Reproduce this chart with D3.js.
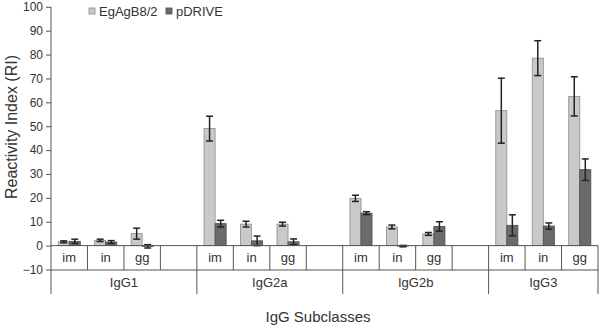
<!DOCTYPE html>
<html><head><meta charset="utf-8">
<script src="https://cdn.jsdelivr.net/npm/d3@7"></script>
<style>body{margin:0;background:#fff}svg{display:block;font-family:Arial,"Liberation Sans",sans-serif}</style>
</head><body><svg id="c" width="600" height="330"></svg>
<script>
const groups = ["IgG1","IgG2a","IgG2b","IgG3"];
const subs = ["im","in","gg"];
const seriesNames = ["EgAgB8/2","pDRIVE"];
const egValues = [1.6,2.2,5.0, 49.0,9.0,9.0, 19.8,7.8,4.9, 56.5,78.5,62.5];
const egErrors = [0.4,0.5,2.3, 5.2,1.2,0.8, 1.3,0.8,0.6, 13.6,7.3,8.2];
const pdValues = [1.8,1.5,-0.3, 9.2,2.0,1.6, 13.6,-0.2,8.0, 8.5,8.2,31.8];
const pdErrors = [0.9,0.6,0.7, 1.4,2.0,1.2, 0.6,0.3,2.0, 4.4,1.3,4.5];
const yTicks = [-10,0,10,20,30,40,50,60,70,80,90,100];

const svg = d3.select("#c");
const L = 51, R = 598, yBottomTable = 294;
const y = d3.scaleLinear().domain([-10,100]).range([269.5,6.8]);
const T = y(100);
const keys = [];
groups.forEach((g,gi)=>{ subs.forEach(s=>keys.push(g+"|"+s)); if(gi<groups.length-1) keys.push(g+"|"); });
const x = d3.scaleBand().domain(keys).range([L,R]);
const xs = d3.scaleBand().domain(seriesNames).range([0,x.bandwidth()]).paddingOuter(0.65);
const lineC = "#555", textC = "#333";

const rows = [];
groups.forEach((g,gi)=>subs.forEach((s,si)=>{
  const i = gi*3+si;
  rows.push({k:g+"|"+s, ser:seriesNames[0], v:egValues[i], e:egErrors[i]});
  rows.push({k:g+"|"+s, ser:seriesNames[1], v:pdValues[i], e:pdErrors[i]});
}));
const fills = {"EgAgB8/2":"#c9c9c9","pDRIVE":"#6b6b6b"};
const strokes = {"EgAgB8/2":"#8a8a8a","pDRIVE":"#4a4a4a"};

svg.append("g").selectAll("rect").data(rows).join("rect")
  .attr("x", d=>x(d.k)+xs(d.ser))
  .attr("width", xs.bandwidth())
  .attr("y", d=>y(Math.max(0,d.v)))
  .attr("height", d=>Math.abs(y(d.v)-y(0)))
  .attr("fill", d=>fills[d.ser]).attr("stroke", d=>strokes[d.ser]).attr("stroke-width",0.8);

const eb = svg.append("g").attr("stroke","#222").attr("stroke-width",1.5);
rows.forEach(d=>{
  const cx = x(d.k)+xs(d.ser)+xs.bandwidth()/2;
  const y1 = y(d.v+d.e), y2 = y(d.v-d.e);
  eb.append("line").attr("x1",cx).attr("x2",cx).attr("y1",y1).attr("y2",y2);
  eb.append("line").attr("x1",cx-3.5).attr("x2",cx+3.5).attr("y1",y1).attr("y2",y1);
  eb.append("line").attr("x1",cx-3.5).attr("x2",cx+3.5).attr("y1",y2).attr("y2",y2);
});

const ya = svg.append("g").attr("transform",`translate(${L},0)`)
  .call(d3.axisLeft(y).tickValues(yTicks).tickSize(5).tickPadding(3));
ya.select(".domain").remove();
ya.selectAll(".tick line").attr("stroke",lineC);
ya.selectAll(".tick text").attr("fill",textC).attr("font-size",12).attr("font-family","Arial, 'Liberation Sans', sans-serif");
svg.append("line").attr("x1",L).attr("x2",L).attr("y1",T).attr("y2",yBottomTable).attr("stroke",lineC);

const y0 = y(0), yMid = 270;
const tbl = svg.append("g").attr("stroke",lineC).attr("stroke-width",1);
tbl.append("line").attr("x1",L).attr("x2",R).attr("y1",y0).attr("y2",y0);
tbl.append("line").attr("x1",L).attr("x2",R).attr("y1",yMid).attr("y2",yMid);
keys.forEach((k,i)=>{
  if(i===0) return;
  const xx = x(k);
  const isGroupStart = k.endsWith("|im");
  tbl.append("line").attr("x1",xx).attr("x2",xx).attr("y1",y0).attr("y2",isGroupStart?yBottomTable:yMid);
});
tbl.append("line").attr("x1",R).attr("x2",R).attr("y1",y0).attr("y2",yBottomTable);

svg.append("g").selectAll("text").data(keys.filter(k=>!k.endsWith("|"))).join("text")
  .attr("x",k=>x(k)+x.bandwidth()/2).attr("y",262).attr("text-anchor","middle")
  .attr("font-size",13).attr("fill",textC).text(k=>k.split("|")[1]);
svg.append("g").selectAll("text").data(groups).join("text")
  .attr("x",(g,gi)=>{const a=x(g+"|im"); const b = gi<groups.length-1 ? x(g+"|")+x.bandwidth() : x(g+"|gg")+x.bandwidth(); return (a+b)/2;})
  .attr("y",287).attr("text-anchor","middle").attr("font-size",13).attr("fill",textC).text(g=>g);

svg.append("text").attr("transform","translate(17,127) rotate(-90)").attr("text-anchor","middle")
  .attr("font-size",16).attr("fill",textC).text("Reactivity Index (RI)");
svg.append("text").attr("x",318).attr("y",322).attr("text-anchor","middle")
  .attr("font-size",15).attr("fill",textC).text("IgG Subclasses");

const lg = svg.append("g");
[[89,seriesNames[0]],[166,seriesNames[1]]].forEach(([lx,n])=>{
  lg.append("rect").attr("x",lx).attr("y",8).attr("width",6).attr("height",6).attr("fill",fills[n]).attr("stroke",strokes[n]).attr("stroke-width",0.8);
  lg.append("text").attr("x",lx+10).attr("y",15.5).attr("font-size",13).attr("fill",textC).text(n);
});
</script></body></html>
